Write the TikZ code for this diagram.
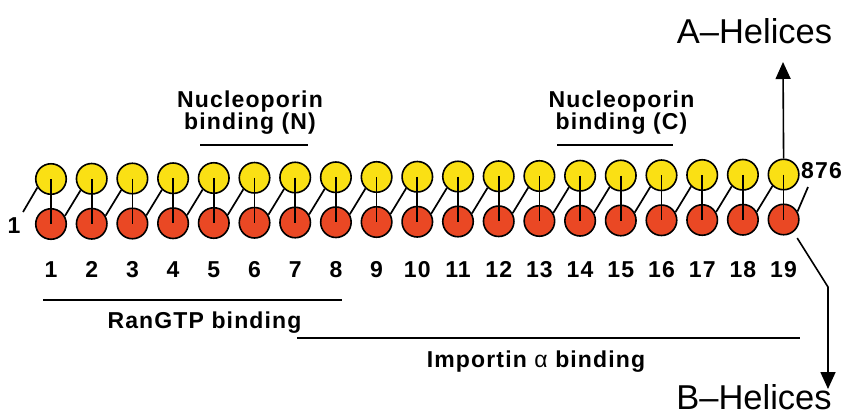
\documentclass[tikz,border=0pt]{standalone}
\usepackage{fontspec}
\setmainfont{Liberation Sans}
\newfontfamily\lblfont[LetterSpace=5]{Liberation Sans}
\usetikzlibrary{arrows.meta}
\definecolor{helixA}{RGB}{250,224,20}
\definecolor{helixB}{RGB}{234,72,36}
\tikzset{
  ycirc/.style={circle, draw=black, line width=1.6pt, fill=helixA, minimum size=30.5pt, inner sep=0pt},
  rcirc/.style={circle, draw=black, line width=1.6pt, fill=helixB, minimum size=30.5pt, inner sep=0pt},
  lbl/.style={font=\lblfont\bfseries\fontsize{23}{22}\selectfont, inner sep=0pt},
  biglbl/.style={font=\fontsize{34.5}{36}\selectfont, inner sep=0pt, text depth=0pt},
  link/.style={line width=1.7pt},
  bar/.style={line width=1.6pt},
  helixarrow/.style={line width=1.6pt, -{Triangle[length=17pt,width=15pt]}}
}
\begin{document}
\begin{tikzpicture}[x=1pt,y=-1pt]
\useasboundingbox (0,0) rectangle (843,416);
% the 19 repeats: A helix (yellow) above, B helix (red) below
\foreach \i in {1,...,19}{
  \pgfmathsetmacro{\xx}{51+(\i-1)*40.7}
  \pgfmathsetmacro{\ya}{179-0.25*(\i-1)}
  \pgfmathsetmacro{\yb}{224-0.25*(\i-1)}
  \node[ycirc] (y\i) at (\xx,\ya) {};
  \node[rcirc] (r\i) at (\xx,\yb) {};
  \node[lbl, anchor=base] (n\i) at (\xx,277) {\i};
  \draw[link] (y\i.center) -- (r\i.center);
}
% loops joining B helix of one repeat to A helix of the next
\foreach \i [count=\j from 2] in {1,...,18}{
  \draw[link] (r\i.30) -- (y\j.226);
}
% termini
\node[lbl, anchor=base] (nterm) at (14,233) {1};
\coordinate (nstart) at (23,212);
\draw[link] (nstart) -- (y1.212);
\node[lbl, anchor=base west] (cterm) at (801,178) {876};
\coordinate (cend) at (808,187);
\draw[link] (r19.30) -- (cend);
% binding regions
\node[lbl, align=center, anchor=north] (nupN) at (250,91) {Nucleoporin\\binding (N)};
\coordinate (nupNa) at (200,145); \coordinate (nupNb) at (308,145);
\draw[bar] (nupNa) -- (nupNb);
\node[lbl, align=center, anchor=north] (nupC) at (621.5,91) {Nucleoporin\\binding (C)};
\coordinate (nupCa) at (557,145); \coordinate (nupCb) at (673,145);
\draw[bar] (nupCa) -- (nupCb);
\coordinate (ranA) at (43,300); \coordinate (ranB) at (342,300);
\draw[bar] (ranA) -- (ranB);
\node[lbl, anchor=base] (ran) at (204.5,328) {RanGTP binding};
\coordinate (impA) at (297,338); \coordinate (impB) at (800,338);
\draw[bar] (impA) -- (impB);
\node[lbl, anchor=base] (imp) at (536,367) {Importin {\mdseries α} binding};
% helix labels and arrows
\node[biglbl, anchor=base] (ahel) at (754.5,43) {A–Helices};
\coordinate (atip) at (783,62);
\draw[helixarrow] (y19.north) -- (atip);
\node[biglbl, anchor=base] (bhel) at (754,409) {B–Helices};
\coordinate (bbend) at (828,287);
\coordinate (btip) at (828,389);
\draw[helixarrow, shorten <=7pt] (r19.-52) -- (bbend) -- (btip);
\end{tikzpicture}
\end{document}
